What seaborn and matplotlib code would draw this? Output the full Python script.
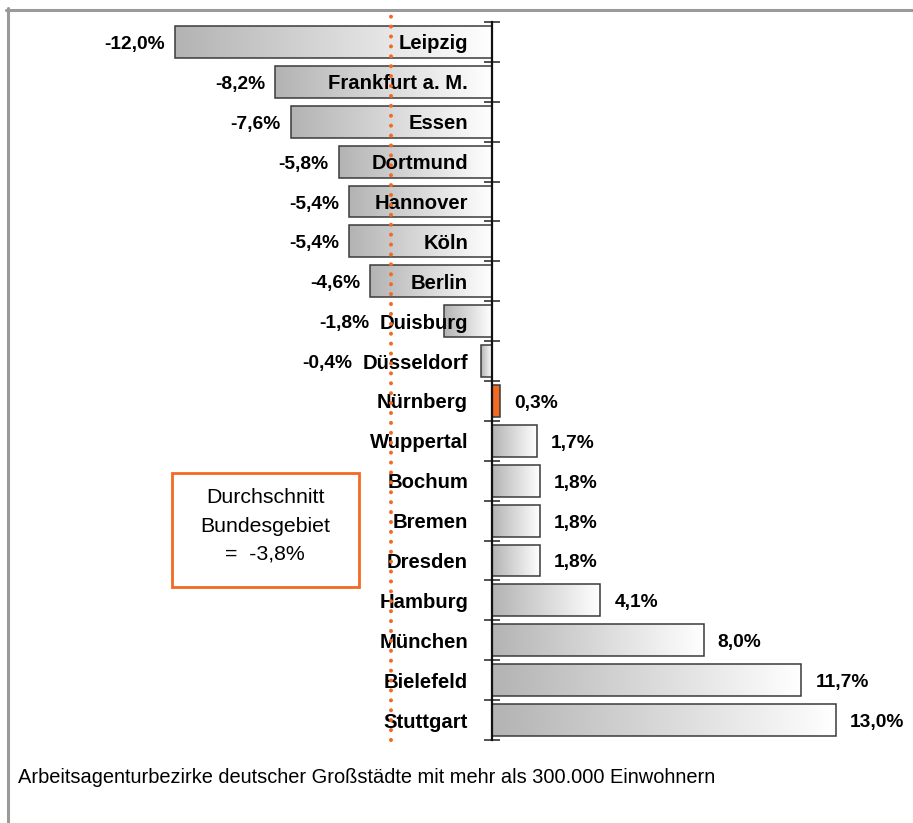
import numpy as np
import pandas as pd
import matplotlib
matplotlib.use("Agg")
import matplotlib.pyplot as plt
import seaborn as sns
from matplotlib.colors import LinearSegmentedColormap
from matplotlib.lines import Line2D
from matplotlib.patches import Rectangle

# --- data -------------------------------------------------------------
cities = ["Leipzig", "Frankfurt a. M.", "Essen", "Dortmund", "Hannover", "Köln",
          "Berlin", "Duisburg", "Düsseldorf", "Nürnberg", "Wuppertal", "Bochum",
          "Bremen", "Dresden", "Hamburg", "München", "Bielefeld", "Stuttgart"]
changes = [-12.0, -8.2, -7.6, -5.8, -5.4, -5.4, -4.6, -1.8, -0.4, 0.3,
           1.7, 1.8, 1.8, 1.8, 4.1, 8.0, 11.7, 13.0]
highlight = "Nürnberg"
average = -3.8
average_caption = ["Durchschnitt", "Bundesgebiet"]
footer = "Arbeitsagenturbezirke deutscher Großstädte mit mehr als 300.000 Einwohnern"

df = pd.DataFrame({"city": cities, "change": changes})

# --- style ------------------------------------------------------------
sns.set_theme(style="white")
FONT = ["Liberation Sans Narrow", "Liberation Sans", "DejaVu Sans"]
plt.rcParams["font.family"] = FONT

ORANGE = "#f26a24"
EDGE = "#3a3a3a"
FRAME = "#9a9a9a"

W, H = 913, 823
fig = plt.figure(figsize=(W / 100, H / 100), dpi=100)
fig.patch.set_facecolor("white")


def fx(px):
    return px / W


def fy(py):
    return 1 - py / H


# axes: zero line at x=492 px, rows from y=22 to y=740 px
ax = fig.add_axes([fx(60), fy(740), fx(880) - fx(60), fy(22) - fy(740)])
ax.set_facecolor("none")

sns.barplot(data=df, x="change", y="city", order=cities, orient="h",
            color="white", saturation=1, width=0.8, edgecolor=EDGE,
            linewidth=1.1, ax=ax, zorder=2)

x_lo = (60 - 492) / 26.45
x_hi = (880 - 492) / 26.45
ax.set_xlim(x_lo, x_hi)
ax.set_ylim(len(cities) - 0.5, -0.5)

# horizontal grey-to-white gradient inside every bar (grey on the left side)
grad_cmap = LinearSegmentedColormap.from_list("bar_grad", ["#b3b3b3", "#ffffff"])
grad = np.linspace(0, 1, 256).reshape(1, -1)
for patch, city in zip(ax.patches, cities):
    bb = patch.get_bbox()
    if city == highlight:
        patch.set_facecolor(ORANGE)
        continue
    patch.set_facecolor("none")
    left, right = min(bb.x0, bb.x1), max(bb.x0, bb.x1)
    top, bottom = min(bb.y0, bb.y1), max(bb.y0, bb.y1)
    img = ax.imshow(grad, cmap=grad_cmap, aspect="auto", interpolation="bilinear",
                    extent=[left, right, bottom, top], zorder=1.5)
    img.set_clip_path(patch)
ax.set_xlim(x_lo, x_hi)
ax.set_ylim(len(cities) - 0.5, -0.5)

# axis: single vertical line at zero with boundary ticks
for side in ["top", "right", "bottom"]:
    ax.spines[side].set_visible(False)
ax.spines["left"].set_position(("data", 0))
ax.spines["left"].set_color("#111111")
ax.spines["left"].set_linewidth(1.6)
ax.spines["left"].set_zorder(3)
ax.set_xticks([])
ax.set_yticks([])
ax.set_yticks(np.arange(-0.5, len(cities), 1.0), minor=True)
ax.tick_params(axis="y", which="minor", direction="inout", length=12,
               width=1.1, color="#222222", left=True)
ax.set_xlabel("")
ax.set_ylabel("")

# city names (right-aligned next to the axis)
city_texts = []
for i, city in enumerate(cities):
    t = ax.annotate(city, xy=(0, i), xytext=(-24, -7.5), textcoords="offset pixels",
                    ha="right", va="baseline", fontsize=14.6, fontweight="bold",
                    color="black", zorder=3)
    city_texts.append(t)

fig.canvas.draw()
renderer = fig.canvas.get_renderer()


def fmt(v):
    return f"{v:.1f}%".replace(".", ",")


# value labels
for i, (v, t) in enumerate(zip(changes, city_texts)):
    if v < 0:
        bar_left = ax.transData.transform((v, i))[0]
        text_left = t.get_window_extent(renderer).x0
        left_px = min(bar_left, text_left)
        x_data = ax.transData.inverted().transform((left_px, 0))[0]
        ax.annotate(fmt(v), xy=(x_data, i), xytext=(-10, -7),
                    textcoords="offset pixels", ha="right", va="baseline",
                    fontsize=13.8, fontweight="bold", color="black")
    else:
        ax.annotate(fmt(v), xy=(v, i), xytext=(14, -7),
                    textcoords="offset pixels", ha="left", va="baseline",
                    fontsize=13.8, fontweight="bold", color="black")

# dotted line for the national average
ax.plot([average, average], [len(cities) - 0.5, -0.8], color=ORANGE,
        linewidth=2.9, linestyle=(0, (0.01, 2.45)), dash_capstyle="round",
        clip_on=False, zorder=4)

# caption box for the average
fig.patches.append(Rectangle((fx(172), fy(587)), fx(359) - fx(172), fy(473) - fy(587),
                             transform=fig.transFigure, facecolor="white",
                             edgecolor=ORANGE, linewidth=2.0))
caption = average_caption + ["=  " + fmt(average)]
for line, base in zip(caption, [503, 531.5, 560]):
    fig.text(fx(265), fy(base), line, ha="center", va="baseline",
             fontsize=15.3, color="black")

# footer
fig.text(fx(18), fy(783), footer, ha="left", va="baseline", fontsize=14.4,
         color="black")

# grey frame at top and left
fig.lines.append(Line2D([fx(6), fx(913)], [fy(9.5), fy(9.5)], transform=fig.transFigure,
                        color=FRAME, linewidth=2.2))
fig.lines.append(Line2D([fx(7.5), fx(7.5)], [fy(8), fy(823)], transform=fig.transFigure,
                        color=FRAME, linewidth=2.2))

fig.savefig("out.png", dpi=100, facecolor="white")
